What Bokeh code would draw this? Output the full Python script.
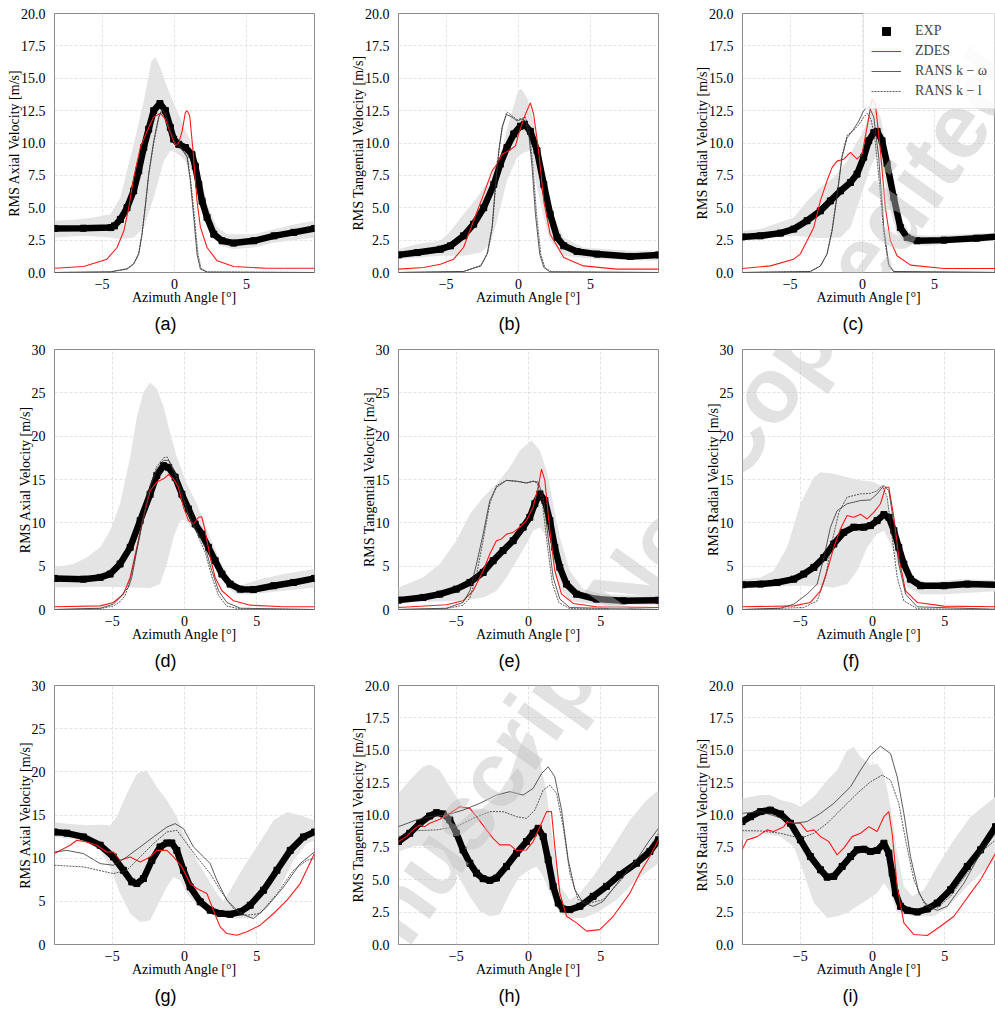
from bokeh.plotting import figure
from bokeh.layouts import gridplot
from bokeh.models import (FixedTicker, PrintfTickFormatter, CustomJSTickFormatter, Label,
                          Legend, LegendItem, Range1d)
from bokeh.embed import file_html
from bokeh.resources import INLINE

# ---------------- data ----------------
# each series: list of (azimuth angle [deg], value [m/s])
A_EXP = [(-8.3,3.4),(-6.3,3.42),(-4.4,3.47),(-4.15,3.6),(-3.74,4.1),(-3.28,5.0),(-2.82,6.3),(-2.47,7.85),(-2.12,9.65),(-1.78,11.07),(-1.43,12.5),(-1.0,13.05),(-0.62,12.5),(-0.28,11.2),(-0.05,10.3),(0.3,9.9),(0.76,9.65),(1.22,9.1),(1.45,8.2),(1.69,6.8),(1.92,5.5),(2.26,4.25),(2.73,2.96),(3.3,2.45),(4.1,2.27),(5.5,2.45),(6.9,2.83),(8.27,3.1),(9.7,3.4)]
A_UP = [(-8.3,4.0),(-6.74,4.1),(-5.6,4.25),(-4.43,4.5),(-3.74,5.8),(-2.82,9.9),(-2.12,13.25),(-1.6,16.3),(-1.3,16.65),(-0.97,15.8),(-0.5,14.3),(0.18,12.5),(0.88,10.7),(1.34,9.65),(1.8,7.6),(2.26,5.3),(2.96,3.5),(3.65,2.96),(5.5,2.96),(8.27,3.7),(9.7,4.0)]
A_LO = [(-8.3,2.7),(-6.28,2.83),(-4.43,2.7),(-3.74,2.57),(-2.82,2.7),(-2.12,3.47),(-1.43,5.8),(-0.74,8.6),(-0.28,9.4),(0.07,9.27),(0.53,8.9),(1.1,8.1),(1.57,6.56),(2.03,5.0),(2.5,3.2),(3.2,2.06),(4.1,1.8),(5.5,1.93),(6.9,2.3),(9.7,2.7)]
A_ZDES = [(-8.3,0.33),(-6.28,0.46),(-4.67,1.03),(-3.97,1.93),(-3.5,3.2),(-3.16,5.0),(-2.82,7.3),(-2.36,9.65),(-1.9,10.9),(-1.43,12.0),(-0.97,12.3),(-0.62,11.85),(-0.28,10.8),(0.07,9.8),(0.3,10.0),(0.53,10.9),(0.76,12.35),(0.88,12.5),(1.06,12.1),(1.29,9.4),(1.57,5.5),(1.8,3.5),(2.26,1.93),(2.96,0.9),(4.1,0.46),(6.4,0.33),(9.7,0.33)]
A_KW = [(-8.3,0.0),(-4.43,0.05),(-3.28,0.26),(-2.82,0.64),(-2.47,1.4),(-2.24,2.96),(-2.0,5.3),(-1.78,7.6),(-1.43,10.17),(-1.09,12.0),(-0.85,12.6),(-0.62,12.2),(-0.28,10.9),(0.07,10.0),(0.53,9.5),(0.88,8.9),(1.1,7.1),(1.34,4.25),(1.57,1.4),(1.8,0.26),(2.26,0.03),(9.7,0.0)]
A_KL = [(-8.3,0.0),(-4.43,0.05),(-3.28,0.3),(-2.82,0.7),(-2.47,1.5),(-2.24,3.0),(-2.0,5.2),(-1.78,7.5),(-1.43,10.0),(-1.09,11.9),(-0.85,12.6),(-0.62,12.3),(-0.28,11.0),(0.07,10.1),(0.53,9.6),(0.88,9.0),(1.1,7.4),(1.38,4.4),(1.62,1.5),(1.85,0.3),(2.3,0.04),(9.7,0.0)]

B_EXP = [(-8.3,1.36),(-7.0,1.54),(-5.4,1.8),(-4.7,2.06),(-3.8,2.83),(-3.1,3.73),(-2.4,5.0),(-1.7,6.8),(-1.25,8.37),(-0.79,9.65),(-0.32,10.7),(0.14,11.3),(0.42,11.45),(0.83,10.9),(1.29,9.4),(1.76,6.8),(2.2,4.5),(2.68,2.7),(3.14,2.06),(4.06,1.62),(5.45,1.42),(7.76,1.24),(9.7,1.36)]
B_UP = [(-8.3,1.8),(-7.0,2.2),(-5.4,2.45),(-4.7,3.2),(-3.8,4.5),(-2.86,5.8),(-1.94,7.3),(-1.25,9.1),(-0.55,12.0),(-0.09,13.8),(0.18,14.2),(0.6,13.5),(1.06,11.7),(1.52,9.4),(1.99,6.56),(2.45,4.25),(3.14,2.7),(4.5,1.93),(7.76,1.67),(9.7,1.67)]
B_LO = [(-8.3,1.03),(-5.4,1.29),(-3.8,1.29),(-2.6,1.54),(-1.94,2.2),(-1.48,4.0),(-0.79,7.1),(-0.09,8.9),(0.37,9.27),(0.83,9.4),(1.29,6.56),(1.76,4.25),(2.2,2.45),(3.14,1.29),(5.45,1.03),(9.7,0.9)]
B_ZDES = [(-8.3,0.26),(-6.56,0.39),(-5.4,0.64),(-4.48,1.03),(-3.8,1.93),(-3.1,4.0),(-2.4,6.05),(-1.82,7.85),(-1.48,8.37),(-1.13,9.14),(-0.67,9.4),(-0.2,9.78),(0.02,10.7),(0.48,12.2),(0.83,13.1),(1.06,12.2),(1.4,9.4),(1.76,5.5),(2.2,2.96),(3.14,1.16),(4.5,0.51),(6.8,0.26),(9.7,0.26)]
B_KW = [(-8.3,0.0),(-3.8,0.08),(-2.6,0.5),(-2.17,1.4),(-1.82,3.47),(-1.6,6.56),(-1.36,9.4),(-1.13,11.2),(-0.83,12.2),(-0.44,12.0),(-0.09,11.7),(0.25,11.85),(0.48,11.7),(0.72,10.7),(0.95,8.1),(1.18,4.5),(1.48,1.4),(1.76,0.39),(2.2,0.05),(9.7,0.0)]
B_KL = [(-8.3,0.0),(-3.8,0.08),(-2.6,0.55),(-2.1,1.6),(-1.8,3.6),(-1.58,6.6),(-1.34,9.4),(-1.1,11.3),(-0.8,12.4),(-0.44,12.1),(-0.09,11.8),(0.25,11.9),(0.48,12.0),(0.75,11.0),(1.0,8.3),(1.25,4.6),(1.55,1.4),(1.85,0.35),(2.3,0.05),(9.7,0.0)]

C_EXP = [(-8.34,2.75),(-7.07,2.83),(-5.68,3.04),(-4.76,3.35),(-3.83,4.0),(-2.91,4.76),(-2.22,5.53),(-1.52,6.3),(-0.83,6.95),(-0.37,7.6),(0.09,8.9),(0.44,10.17),(0.79,10.8),(1.02,10.9),(1.36,10.17),(1.71,8.4),(2.17,5.8),(2.63,3.47),(3.1,2.7),(3.79,2.45),(5.64,2.5),(7.9,2.65),(9.7,2.8)]
C_UP = [(-8.34,3.2),(-7.07,3.35),(-4.76,4.25),(-3.83,5.53),(-2.91,6.56),(-1.99,7.33),(-1.06,8.6),(-0.48,9.9),(-0.02,10.7),(0.44,12.0),(0.79,13.25),(1.25,12.0),(1.71,9.4),(2.17,6.56),(2.63,4.25),(3.33,2.96),(4.48,2.83),(6.8,2.96),(9.7,3.1)]
C_LO = [(-8.34,2.57),(-4.76,2.83),(-2.91,2.65),(-1.52,2.7),(-0.83,3.47),(-0.37,5.0),(0.09,6.56),(0.55,8.1),(1.02,9.14),(1.48,7.6),(1.94,4.76),(2.4,2.96),(3.1,2.19),(4.48,2.06),(6.8,2.32),(9.7,2.45)]
C_ZDES = [(-8.34,0.31),(-6.37,0.51),(-4.76,1.03),(-4.3,1.42),(-3.83,2.45),(-3.37,3.47),(-2.91,5.53),(-2.45,7.08),(-2.1,8.1),(-1.76,8.6),(-1.29,8.75),(-0.83,9.27),(-0.37,8.75),(-0.02,9.14),(0.32,11.2),(0.67,13.4),(0.9,13.0),(1.25,9.4),(1.59,5.0),(1.94,2.45),(2.4,1.29),(3.33,0.57),(5.64,0.31),(9.7,0.31)]
C_KW = [(-8.34,0.0),(-3.6,0.08),(-2.91,0.5),(-2.45,1.4),(-2.1,3.2),(-1.76,5.8),(-1.41,8.9),(-1.06,10.4),(-0.6,11.07),(-0.25,11.7),(0.09,12.5),(0.44,12.87),(0.79,12.0),(1.13,8.9),(1.48,3.47),(1.82,0.64),(2.17,0.08),(9.7,0.0)]
C_KL = [(-8.34,0.0),(-3.6,0.08),(-2.91,0.5),(-2.45,1.45),(-2.1,3.3),(-1.76,6.0),(-1.41,9.0),(-1.06,10.6),(-0.6,11.0),(-0.25,11.4),(0.09,12.0),(0.35,12.3),(0.6,11.8),(0.85,10.5),(1.13,7.5),(1.48,3.0),(1.82,0.5),(2.17,0.06),(9.7,0.0)]

D_EXP = [(-9.0,3.59),(-7.0,3.5),(-5.84,3.7),(-5.15,4.09),(-4.46,5.25),(-3.76,7.17),(-3.07,10.26),(-2.38,13.3),(-1.92,15.46),(-1.45,16.6),(-1.1,16.4),(-0.65,15.27),(-0.18,13.3),(0.28,11.6),(0.74,9.87),(1.2,8.7),(1.66,7.17),(2.12,5.63),(2.59,4.09),(3.16,2.93),(3.86,2.35),(4.78,2.3),(6.17,2.74),(7.55,3.12),(9.0,3.59)]
D_UP = [(-9.0,4.86),(-7.69,5.25),(-6.77,6.0),(-5.84,7.17),(-5.15,9.1),(-4.46,12.2),(-3.76,17.6),(-3.3,22.2),(-2.84,25.1),(-2.38,26.2),(-1.92,25.5),(-1.45,23.4),(-0.99,20.3),(-0.53,17.6),(0.16,14.5),(0.85,12.2),(1.32,10.26),(1.78,8.33),(2.47,5.63),(3.16,3.5),(3.86,2.74),(5.24,3.5),(6.86,4.09),(9.0,4.67)]
D_LO = [(-9.0,2.55),(-5.84,2.62),(-3.53,2.55),(-2.38,2.47),(-1.69,2.93),(-1.22,5.25),(-0.76,8.33),(-0.3,10.26),(0.05,10.34),(0.5,9.5),(1.09,8.7),(1.66,6.8),(2.24,4.47),(2.93,2.55),(3.63,1.77),(4.78,1.77),(6.86,2.16),(9.0,2.55)]
D_ZDES = [(-9.0,0.31),(-5.84,0.42),(-4.92,0.81),(-4.23,1.77),(-3.76,3.7),(-3.3,7.17),(-2.84,10.64),(-2.38,13.7),(-1.92,14.7),(-1.45,15.08),(-1.1,15.58),(-0.76,15.08),(-0.42,14.1),(-0.07,11.8),(0.28,10.26),(0.62,9.87),(0.97,10.64),(1.2,10.7),(1.43,9.1),(1.78,6.0),(2.12,3.7),(2.59,2.16),(3.4,1.0),(4.55,0.5),(6.86,0.31),(9.0,0.31)]
D_KW = [(-9.0,0.0),(-5.84,0.15),(-4.92,0.62),(-4.46,1.39),(-4.11,2.16),(-3.88,2.55),(-3.65,3.7),(-3.3,6.8),(-2.84,10.64),(-2.38,14.1),(-1.92,16.2),(-1.45,17.2),(-1.1,17.2),(-0.65,15.66),(-0.18,13.3),(0.28,11.0),(0.85,9.1),(1.43,7.17),(1.89,4.47),(2.36,2.16),(2.93,0.81),(3.86,0.15),(9.0,0.0)]
D_KL = [(-9.0,0.0),(-5.84,0.1),(-4.92,0.4),(-4.46,0.9),(-4.11,1.6),(-3.88,2.8),(-3.65,4.2),(-3.3,7.0),(-2.84,10.9),(-2.38,14.3),(-1.92,16.5),(-1.45,17.5),(-1.2,17.6),(-0.65,15.9),(-0.18,13.4),(0.28,10.9),(0.85,8.8),(1.43,6.6),(1.89,3.8),(2.36,1.6),(2.93,0.4),(3.86,0.05),(9.0,0.0)]

E_EXP = [(-9.0,1.08),(-7.3,1.39),(-6.14,1.77),(-5.0,2.35),(-4.06,3.12),(-3.14,4.28),(-2.45,5.63),(-1.76,6.8),(-1.06,7.94),(-0.37,9.5),(0.09,10.64),(0.44,12.2),(0.79,13.34),(1.13,12.57),(1.48,10.26),(1.82,7.17),(2.17,4.86),(2.63,2.93),(3.33,1.77),(4.7,1.2),(6.56,1.0),(9.0,1.08)]
E_UP = [(-9.0,2.55),(-7.3,3.7),(-6.14,5.25),(-5.0,7.94),(-4.06,11.0),(-3.14,12.96),(-2.2,14.5),(-1.29,16.4),(-0.6,18.36),(0.2,19.5),(0.79,18.36),(1.25,16.04),(1.71,12.2),(2.17,8.33),(2.86,4.47),(3.79,2.35),(5.17,1.77),(9.0,1.58)]
E_LO = [(-9.0,0.81),(-4.5,1.0),(-3.14,1.39),(-2.2,2.16),(-1.52,3.7),(-0.83,5.63),(-0.14,7.56),(0.32,9.1),(0.79,9.5),(1.25,8.33),(1.71,5.25),(2.17,2.55),(2.86,1.0),(4.7,0.54),(9.0,0.54)]
E_ZDES = [(-9.0,0.23),(-5.68,0.54),(-4.53,1.0),(-3.83,2.16),(-3.14,4.47),(-2.68,6.4),(-2.22,7.94),(-1.87,8.14),(-1.52,8.7),(-1.06,8.9),(-0.6,9.49),(-0.14,10.26),(0.32,11.8),(0.67,14.1),(0.9,16.2),(1.13,14.9),(1.48,9.1),(1.82,4.47),(2.29,1.77),(3.1,0.7),(4.7,0.31),(9.0,0.23)]
E_KW = [(-9.0,0.0),(-5.68,0.15),(-4.53,0.81),(-4.06,2.16),(-3.6,5.25),(-3.14,8.7),(-2.68,12.57),(-2.22,14.1),(-1.52,14.9),(-0.83,14.8),(-0.14,14.6),(0.32,14.8),(0.67,14.7),(1.02,12.96),(1.36,8.33),(1.71,3.7),(2.17,1.2),(2.86,0.23),(9.0,0.0)]
E_KL = [(-9.0,0.0),(-5.68,0.1),(-4.53,0.5),(-4.06,1.3),(-3.6,4.0),(-3.14,8.0),(-2.68,12.2),(-2.22,14.3),(-1.52,14.9),(-0.83,14.8),(-0.14,14.6),(0.32,14.8),(0.6,14.6),(0.95,12.5),(1.3,7.5),(1.65,3.0),(2.1,0.8),(2.86,0.1),(9.0,0.0)]

F_EXP = [(-9.0,2.85),(-7.76,2.93),(-6.6,3.12),(-5.45,3.5),(-4.76,4.09),(-4.06,4.86),(-3.37,6.0),(-2.68,7.56),(-1.99,8.9),(-1.29,9.5),(-0.6,9.5),(-0.14,9.68),(0.32,10.26),(0.79,10.95),(1.13,10.64),(1.48,9.1),(1.82,7.17),(2.17,5.25),(2.63,3.5),(3.33,2.74),(4.94,2.74),(6.56,2.93),(9.0,2.85)]
F_UP = [(-9.0,3.5),(-7.76,3.7),(-6.84,4.47),(-5.91,7.17),(-4.99,12.2),(-4.06,15.27),(-3.6,15.85),(-2.68,15.66),(-1.76,15.27),(-0.83,14.9),(0.09,14.7),(0.79,14.1),(1.25,11.0),(1.71,8.33),(2.17,6.0),(2.86,3.7),(3.79,3.12),(6.1,3.5),(9.0,3.4)]
F_LO = [(-9.0,2.47),(-5.45,2.74),(-3.83,2.74),(-2.68,2.55),(-1.76,2.93),(-1.06,4.47),(-0.37,7.17),(0.32,8.7),(0.79,9.1),(1.25,7.56),(1.71,5.25),(2.4,2.55),(3.33,1.77),(4.94,1.77),(9.0,2.16)]
F_ZDES = [(-9.0,0.31),(-5.45,0.42),(-4.3,0.81),(-3.6,2.16),(-3.14,4.47),(-2.68,7.17),(-2.22,9.3),(-1.76,10.84),(-1.29,10.64),(-0.83,11.0),(-0.37,10.45),(0.09,11.2),(0.55,12.2),(0.9,14.1),(1.13,14.1),(1.48,10.64),(1.82,6.0),(2.29,2.16),(3.1,0.81),(4.94,0.39),(9.0,0.31)]
F_KW = [(-9.0,0.0),(-6.37,0.15),(-5.45,0.62),(-4.53,1.77),(-3.83,2.93),(-3.37,6.0),(-2.91,9.49),(-2.45,11.4),(-1.76,12.2),(-0.83,12.57),(-0.14,12.65),(0.32,13.34),(0.79,14.3),(1.13,13.7),(1.48,9.87),(1.82,5.25),(2.29,1.77),(3.1,0.31),(9.0,0.0)]
F_KL = [(-9.0,0.0),(-4.76,0.23),(-3.83,1.0),(-3.26,3.7),(-2.79,7.94),(-2.33,11.2),(-1.76,12.96),(-0.83,13.34),(-0.14,13.4),(0.32,13.7),(0.67,14.3),(1.02,12.96),(1.36,8.33),(1.71,3.7),(2.17,1.0),(3.1,0.08),(9.0,0.0)]

G_EXP = [(-9.0,13.03),(-8.15,12.9),(-7.0,12.46),(-5.84,11.5),(-4.92,10.14),(-4.23,8.6),(-3.65,7.25),(-3.3,7.06),(-2.84,7.64),(-2.26,9.76),(-1.69,11.3),(-1.22,11.76),(-0.88,11.76),(-0.53,10.9),(-0.07,8.6),(0.39,6.67),(1.09,4.94),(1.78,3.97),(2.47,3.59),(3.16,3.5),(3.86,3.78),(4.55,4.55),(5.47,6.29),(6.4,8.6),(7.32,10.9),(8.24,12.46),(9.0,13.03)]
G_UP = [(-9.0,14.2),(-8.15,14.0),(-6.77,13.8),(-5.84,13.88),(-5.15,13.8),(-4.69,14.77),(-4.0,17.47),(-3.3,19.78),(-2.61,20.17),(-1.92,18.24),(-1.22,16.7),(-0.53,14.77),(0.16,12.07),(0.85,9.76),(1.55,7.83),(2.24,5.9),(2.7,5.05),(3.16,6.29),(4.09,8.99),(5.01,11.3),(6.17,14.38),(7.1,15.35),(8.01,14.96),(9.0,14.38)]
G_LO = [(-9.0,12.46),(-7.0,12.07),(-5.84,10.9),(-5.15,8.99),(-4.46,5.9),(-3.76,3.59),(-3.07,2.62),(-2.38,2.82),(-1.69,5.13),(-1.22,6.67),(-0.76,7.83),(-0.3,7.44),(0.16,5.9),(0.85,4.55),(1.55,3.97),(2.47,3.59),(3.39,3.0),(4.78,3.0),(5.7,4.36),(6.63,6.67),(7.55,9.76),(8.47,11.69),(9.0,12.07)]
G_ZDES = [(-9.0,10.53),(-8.61,10.9),(-7.92,11.49),(-7.46,12.07),(-6.77,11.88),(-6.07,11.49),(-5.38,10.72),(-4.92,10.72),(-4.46,9.76),(-3.76,10.14),(-3.07,9.56),(-2.38,10.14),(-1.92,10.9),(-1.22,10.9),(-0.76,10.14),(-0.18,8.99),(0.39,7.06),(0.85,6.48),(1.55,5.9),(2.0,3.97),(2.47,2.04),(2.93,1.27),(3.63,1.08),(4.32,1.47),(5.24,2.24),(6.17,3.59),(7.1,5.13),(8.01,7.06),(9.0,10.53)]
G_KW = [(-9.0,10.72),(-8.15,10.9),(-7.0,10.53),(-5.84,9.37),(-4.92,9.18),(-4.0,10.14),(-3.07,11.3),(-2.15,12.46),(-1.22,13.6),(-0.65,14.0),(-0.07,13.42),(0.62,11.3),(1.32,10.14),(1.78,9.37),(2.24,7.44),(2.93,5.13),(3.86,3.59),(4.78,3.0),(5.7,4.36),(6.86,6.67),(8.01,9.37),(9.0,10.72)]
G_KL = [(-9.0,9.18),(-7.0,8.99),(-4.92,8.21),(-4.0,8.6),(-3.07,10.14),(-2.15,11.69),(-1.22,13.03),(-0.53,13.23),(0.16,11.69),(0.85,10.14),(1.78,8.21),(2.47,6.29),(3.39,4.16),(4.32,3.39),(5.24,3.59),(6.4,5.9),(7.55,8.6),(8.47,9.76),(9.0,9.95)]

H_EXP = [(-9.0,7.95),(-8.22,8.59),(-7.53,9.36),(-6.84,9.92),(-6.37,10.18),(-5.91,10.08),(-5.45,9.62),(-4.99,8.59),(-4.53,7.3),(-4.06,6.28),(-3.6,5.51),(-3.14,5.08),(-2.68,4.95),(-2.22,5.13),(-1.52,6.03),(-0.83,7.05),(-0.14,7.95),(0.32,8.59),(0.67,8.97),(1.02,8.33),(1.36,6.54),(1.71,4.49),(2.06,3.2),(2.4,2.74),(2.86,2.69),(3.56,2.95),(4.48,3.72),(5.4,4.49),(6.33,5.38),(7.48,6.28),(8.4,7.18),(9.0,8.08)]
H_UP = [(-9.0,11.67),(-8.22,12.7),(-7.3,13.72),(-6.84,13.9),(-6.14,13.46),(-5.45,12.18),(-4.53,10.64),(-3.37,10.38),(-2.22,11.41),(-1.29,12.95),(-0.6,15.26),(-0.14,16.41),(0.32,16.03),(0.79,14.23),(1.25,11.67),(1.71,7.82),(2.17,4.49),(2.86,3.46),(3.56,3.97),(4.48,5.26),(5.87,7.56),(7.02,9.62),(8.18,11.15),(9.0,11.92)]
H_LO = [(-9.0,7.18),(-8.0,7.56),(-6.84,7.69),(-5.91,7.3),(-4.99,5.51),(-4.06,3.72),(-3.37,2.56),(-2.68,2.18),(-1.99,2.31),(-1.29,3.97),(-0.6,5.26),(0.09,5.77),(0.55,6.03),(1.02,5.26),(1.48,3.97),(2.17,2.44),(2.86,2.05),(3.79,2.05),(4.71,2.44),(6.1,3.46),(7.48,5.0),(9.0,6.28)]
H_ZDES = [(-9.0,7.95),(-8.45,8.33),(-8.0,8.85),(-7.53,9.23),(-7.18,9.1),(-6.84,9.36),(-6.14,9.67),(-5.45,10.13),(-5.1,10.38),(-4.76,10.64),(-4.06,10.51),(-3.6,9.87),(-2.91,8.85),(-2.45,8.2),(-1.99,7.69),(-1.29,7.69),(-0.83,7.26),(-0.14,7.3),(0.32,7.95),(0.79,9.1),(1.25,10.26),(1.59,10.26),(1.82,7.56),(2.17,3.97),(2.63,2.18),(3.33,1.67),(4.02,1.03),(4.94,1.15),(5.87,2.18),(7.02,3.97),(7.71,5.51),(8.4,6.79),(9.0,8.08)]
H_KW = [(-9.0,9.1),(-7.76,9.62),(-6.84,9.87),(-5.68,10.0),(-4.53,10.38),(-3.37,10.9),(-2.22,11.54),(-1.29,11.8),(-0.37,11.54),(0.32,12.05),(0.9,13.2),(1.36,13.72),(1.82,12.95),(2.29,10.38),(2.75,6.54),(3.21,4.23),(3.79,3.2),(4.48,2.95),(5.17,3.33),(6.33,5.0),(7.48,6.54),(8.4,8.08),(9.0,8.97)]
H_KL = [(-9.0,8.33),(-7.76,8.79),(-6.37,8.85),(-4.99,9.1),(-3.83,9.74),(-2.68,10.26),(-1.76,10.26),(-0.83,9.87),(-0.14,9.74),(0.44,10.38),(1.02,11.92),(1.48,12.31),(1.94,11.67),(2.4,9.1),(2.86,5.51),(3.44,3.46),(4.25,3.2),(5.17,3.46),(6.33,4.87),(7.48,6.54),(8.4,7.56),(9.0,8.59)]

I_EXP = [(-9.03,9.49),(-8.45,9.87),(-7.76,10.26),(-7.07,10.38),(-6.37,10.08),(-5.68,9.36),(-4.99,8.08),(-4.3,6.79),(-3.6,5.77),(-3.14,5.2),(-2.68,5.26),(-2.1,6.03),(-1.52,6.79),(-1.06,7.31),(-0.6,7.36),(-0.14,7.18),(0.32,7.26),(0.79,7.82),(1.13,7.05),(1.36,5.51),(1.59,3.97),(1.94,2.95),(2.4,2.64),(3.1,2.51),(3.79,2.74),(4.48,3.2),(5.4,4.23),(6.56,6.03),(7.48,7.31),(8.52,9.1)]
I_UP = [(-9.03,11.28),(-7.76,11.54),(-7.07,11.54),(-6.37,11.15),(-5.45,10.9),(-4.99,10.64),(-4.06,11.41),(-3.14,12.69),(-2.45,13.46),(-1.76,15.0),(-1.29,15.26),(-0.83,14.49),(-0.14,13.85),(0.32,13.97),(0.79,13.2),(1.25,10.64),(1.71,7.05),(2.17,4.49),(2.75,3.72),(3.56,4.23),(4.48,6.03),(5.64,8.08),(6.79,9.87),(8.52,11.41)]
I_LO = [(-9.03,8.08),(-7.76,8.59),(-6.37,8.33),(-5.45,7.56),(-4.76,5.51),(-4.06,3.2),(-3.14,2.05),(-2.45,2.18),(-1.76,2.44),(-1.06,2.95),(-0.37,3.46),(0.32,3.97),(0.79,4.74),(1.25,3.97),(1.71,2.44),(2.86,2.18),(4.25,2.18),(5.17,2.82),(6.56,4.49),(8.52,6.54)]
I_ZDES = [(-9.03,7.31),(-8.68,8.08),(-7.99,8.33),(-7.3,8.85),(-6.84,8.72),(-6.14,9.1),(-5.91,9.49),(-5.45,9.36),(-4.99,9.36),(-4.53,8.72),(-4.06,8.85),(-3.6,8.33),(-3.03,7.95),(-2.45,6.92),(-1.99,7.44),(-1.41,8.33),(-0.83,8.59),(-0.25,9.1),(0.32,8.72),(0.79,9.87),(1.13,10.26),(1.36,8.59),(1.71,4.49),(2.17,1.67),(2.86,0.77),(3.79,0.69),(4.71,1.41),(5.64,2.18),(6.79,3.97),(7.48,5.0),(8.52,7.05)]
I_KW = [(-9.03,10.13),(-7.76,10.26),(-6.6,9.87),(-5.45,9.36),(-4.53,9.49),(-3.6,10.13),(-2.68,10.9),(-1.52,12.18),(-0.83,13.46),(-0.14,14.62),(0.55,15.31),(1.25,14.74),(1.71,12.95),(2.17,10.13),(2.63,6.79),(3.21,3.97),(3.79,2.95),(4.48,2.64),(5.17,2.95),(6.33,4.74),(7.48,7.05),(8.52,8.59)]
I_KL = [(-9.03,8.79),(-7.76,8.77),(-6.37,8.59),(-4.99,8.2),(-4.06,8.59),(-3.14,9.36),(-1.99,10.64),(-1.06,11.67),(-0.14,12.56),(0.67,13.08),(1.25,12.69),(1.82,10.9),(2.29,8.08),(2.86,5.0),(3.56,3.2),(4.48,2.82),(5.4,3.72),(6.56,5.51),(7.71,7.31),(8.52,8.08)]

CAPTIONS = [["(a)", "(b)", "(c)"], ["(d)", "(e)", "(f)"], ["(g)", "(h)", "(i)"]]
YLABELS = ["RMS Axial Velocity [m/s]", "RMS Tangential Velocity [m/s]", "RMS Radial Velocity [m/s]"]
XLABEL = "Azimuth Angle [°]"
LEGEND_LABELS = ["EXP", "ZDES", "RANS k − ω", "RANS k − l"]
WATERMARK = "Manuscript Not Copyedited"

PANELS = [
    [(A_EXP, A_UP, A_LO, A_ZDES, A_KW, A_KL), (B_EXP, B_UP, B_LO, B_ZDES, B_KW, B_KL), (C_EXP, C_UP, C_LO, C_ZDES, C_KW, C_KL)],
    [(D_EXP, D_UP, D_LO, D_ZDES, D_KW, D_KL), (E_EXP, E_UP, E_LO, E_ZDES, E_KW, E_KL), (F_EXP, F_UP, F_LO, F_ZDES, F_KW, F_KL)],
    [(G_EXP, G_UP, G_LO, G_ZDES, G_KW, G_KL), (H_EXP, H_UP, H_LO, H_ZDES, H_KW, H_KL), (I_EXP, I_UP, I_LO, I_ZDES, I_KW, I_KL)],
]

# ---------------- layout / style ----------------
COL_X = [0, 344, 688]
COL_W = [344, 344, 307]
ROW_Y = [0, 340, 676]
ROW_H = [340, 336, 336]
TOP = [13, 9, 9]
BOTTOM = [68, 67, 68]
LEFT = 54
RIGHT = [30, 30, 0]
Y_MAX = [[20, 20, 20], [30, 30, 30], [30, 20, 20]]
WM_X, WM_Y, WM_ANGLE = 654, 548, 0.951
# panels that the diagonal watermark crosses
WM_PANELS = {(0, 2), (1, 1), (1, 2), (2, 0), (2, 1)}

SERIF = "Liberation Serif"


def xy(pts):
    return [p[0] for p in pts], [p[1] for p in pts]


def make_panel(r, c):
    exp, up, lo, zdes, kw, kl = PANELS[r][c]
    fw = COL_W[c] - LEFT - RIGHT[c]
    fh = ROW_H[r] - TOP[r] - BOTTOM[r]
    scale = 260.0 / 18.0
    x0 = -8.3 if r == 0 else -9.0
    x1 = x0 + fw / scale
    y0, y1 = 0, Y_MAX[r][c]
    p = figure(width=COL_W[c], height=ROW_H[r], x_range=Range1d(x0, x1), y_range=Range1d(y0, y1),
               output_backend="svg", toolbar_location=None,
               min_border_left=LEFT, min_border_right=RIGHT[c],
               min_border_top=TOP[r], min_border_bottom=BOTTOM[r],
               title=CAPTIONS[r][c], title_location="below")
    p.background_fill_color = "white"
    p.border_fill_color = "white"
    p.outline_line_color = "#8c8c8c"
    p.outline_line_width = 1

    # grey band
    ux, uy = xy(up)
    lx, ly = xy(lo)
    p.patch(ux + lx[::-1], uy + ly[::-1], fill_color="#e4e4e4", line_color=None)
    # curves
    ex, ey = xy(exp)
    p.line(ex, ey, line_width=6.5, color="black")
    r_exp = p.scatter(ex, ey, marker="square", size=6, color="black")
    zx, zy = xy(zdes)
    r_z = p.line(zx, zy, line_width=1.1, color="#ff1a1a")
    kx, ky = xy(kw)
    r_kw = p.line(kx, ky, line_width=0.8, color="#333333")
    lxx, lyy = xy(kl)
    r_kl = p.line(lxx, lyy, line_width=0.8, color="#333333", line_dash="2 1")

    # axes
    p.xaxis.ticker = FixedTicker(ticks=[-5, 0, 5])
    p.xaxis.formatter = CustomJSTickFormatter(code="return tick < 0 ? '\\u2212' + Math.abs(tick) : tick.toString();")
    step = 2.5 if y1 == 20 else 5
    p.yaxis.ticker = FixedTicker(ticks=[i * step for i in range(int(y1 / step) + 1)])
    p.yaxis.formatter = PrintfTickFormatter(format="%.1f" if y1 == 20 else "%d")
    p.xaxis.axis_label = XLABEL
    p.yaxis.axis_label = YLABELS[c]
    p.axis.axis_line_color = None
    p.axis.major_tick_line_color = None
    p.axis.minor_tick_line_color = None
    p.axis.major_label_text_color = "black"
    p.axis.major_label_text_font_size = "14px"
    p.axis.major_label_text_font = SERIF
    p.axis.axis_label_text_font = SERIF
    p.axis.axis_label_text_font_size = "14px"
    p.axis.axis_label_text_font_style = "normal"
    p.axis.axis_label_text_color = "black"
    p.xaxis.major_label_standoff = 0
    p.yaxis.major_label_standoff = 3
    p.xaxis.axis_label_standoff = -2
    p.yaxis.axis_label_standoff = -4
    p.grid.grid_line_color = "#dadada"
    p.grid.grid_line_dash = "3 2"
    p.grid.grid_line_width = 0.8

    # sub-figure caption below
    p.title.text_font = "Liberation Sans"
    p.title.text_font_size = "18px"
    p.title.text_font_style = "normal"
    p.title.text_color = "black"
    p.title.align = "left"
    p.title.offset = 100
    p.title.standoff = 9

    if r == 0 and c == 2:
        legend = Legend(items=[LegendItem(label=LEGEND_LABELS[0], renderers=[r_exp]),
                               LegendItem(label=LEGEND_LABELS[1], renderers=[r_z]),
                               LegendItem(label=LEGEND_LABELS[2], renderers=[r_kw]),
                               LegendItem(label=LEGEND_LABELS[3], renderers=[r_kl])],
                        location="top_right")
        legend.label_text_font = SERIF
        legend.label_text_font_size = "14px"
        legend.glyph_width = 30
        legend.glyph_height = 20
        legend.label_height = 20
        legend.label_standoff = 14
        legend.spacing = 0
        legend.padding = 7
        legend.margin = 0
        legend.border_line_color = "#cccccc"
        legend.background_fill_alpha = 0.85
        p.add_layout(legend)

    # watermark, positioned in page pixels and converted to this panel's data units
    if (r, c) in WM_PANELS:
        fl = COL_X[c] + LEFT
        ft = ROW_Y[r] + TOP[r]
        wx = x0 + (WM_X - fl) / fw * (x1 - x0)
        wy = y1 - (WM_Y - ft) / fh * (y1 - y0)
        p.add_layout(Label(x=wx, y=wy, text=WATERMARK, angle=WM_ANGLE,
                           text_align="center", text_baseline="middle",
                           text_font="Liberation Sans", text_font_style="bold",
                           text_font_size="92px", text_color="#bebebe", text_alpha=0.45))
    return p


grid = [[make_panel(r, c) for c in range(3)] for r in range(3)]
layout = gridplot(grid, toolbar_location=None)
open("out.html", "w").write(file_html(layout, INLINE))
